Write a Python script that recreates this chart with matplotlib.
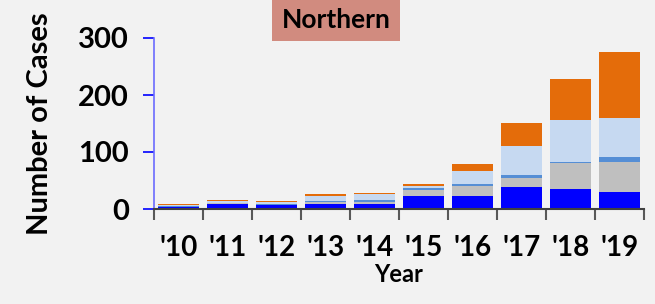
import matplotlib
matplotlib.use('Agg')
import matplotlib.pyplot as plt
import numpy as np

years = ["'10", "'11", "'12", "'13", "'14", "'15", "'16", "'17", "'18", "'19"]
blue = [3, 9, 6.5, 9, 9, 23.5, 23.5, 38.5, 35.5, 30.5]
gray = [1, 1, 1, 3, 4, 9, 16.5, 16, 46, 52.5]
mid_blue = [1, 1, 1, 2, 2, 3.5, 4, 6, 1.7, 8]
light_blue = [2, 3, 3, 8, 11, 4.5, 23.5, 50, 73, 69]
orange = [2, 2.5, 2.5, 4, 2, 3.5, 12, 41, 71.5, 115]

series = [(blue, '#0000ff'), (gray, '#bfbfbf'), (mid_blue, '#558ed5'),
          (light_blue, '#c6d9f1'), (orange, '#e46c0a')]

BG = '#f2f2f2'
FONT = 'Lato'

fig = plt.figure(figsize=(6.55, 3.04), dpi=100, facecolor=BG)
ax = fig.add_axes([0.235, 0.3125, 0.748, 0.5625], facecolor=BG)

x = np.arange(len(years))
bottom = np.zeros(len(years))
for vals, col in series:
    ax.bar(x, vals, width=0.83, bottom=bottom, color=col, linewidth=0)
    bottom += np.array(vals)

ax.set_xlim(-0.5, len(years) - 0.5)
ax.set_ylim(0, 300)
ax.set_yticks([0, 100, 200, 300])
ax.set_yticklabels(['0', '100', '200', '300'], fontsize=21,
                   fontweight='bold', family=FONT)
ax.tick_params(axis='y', colors='#0000ff', length=8, width=1.2, pad=10,
               labelcolor='black')

# category boundaries carry the x ticks; labels sit between them
ax.set_xticks(np.arange(len(years) + 1) - 0.5)
ax.set_xticklabels([])
ax.set_xticks(x, minor=True)
ax.set_xticklabels(years, minor=True, fontsize=20, fontweight='bold',
                   family=FONT)
ax.tick_params(axis='x', which='major', colors='#595959', length=8, width=1.5)
ax.tick_params(axis='x', which='minor', length=0, pad=19)

for s in ('top', 'right'):
    ax.spines[s].set_visible(False)
ax.spines['left'].set_color('#6b6bff')
ax.spines['left'].set_linewidth(1.2)
ax.spines['bottom'].set_color('#404040')
ax.spines['bottom'].set_linewidth(1.5)

ax.set_xlabel('Year', fontsize=17, fontweight='bold', family=FONT, labelpad=1)
ax.set_ylabel('Number of Cases', fontsize=21, fontweight='bold', family=FONT,
              labelpad=18)

fig.text(0.513, 0.935, 'Northern', fontsize=19, fontweight='bold', family=FONT,
         ha='center', va='center',
         bbox=dict(boxstyle='square,pad=0.35', facecolor='#d18b7f',
                   edgecolor='none'))

fig.savefig('out.png', dpi=100, facecolor=BG)
